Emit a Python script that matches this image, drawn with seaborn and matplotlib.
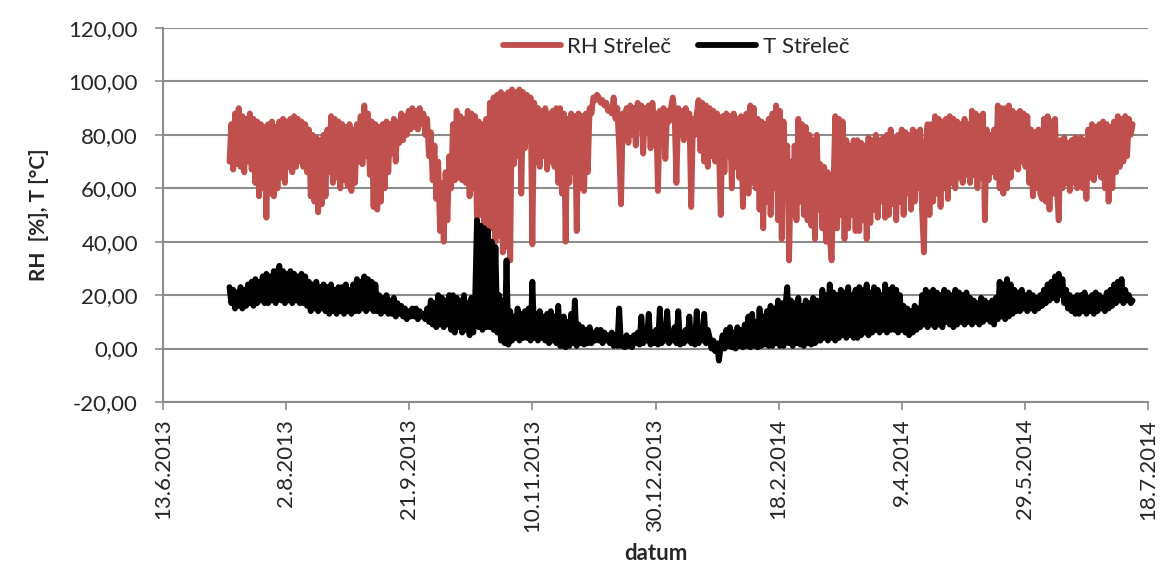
import numpy as np
import pandas as pd
import matplotlib
matplotlib.use("Agg")
import matplotlib.pyplot as plt
import matplotlib.dates as mdates
from matplotlib.ticker import FixedLocator, FuncFormatter
import seaborn as sns

# ---- data (one value every 18 h from 10.7.2013) ----
rh_values = [
    70, 84, 67, 88, 69, 90, 68, 87, 66, 86, 70, 88, 67, 86, 62, 85, 57, 84, 60, 83,
    49, 84, 58, 85, 57, 83, 60, 85, 64, 86, 62, 85, 68, 86, 66, 87, 68, 86, 70, 85,
    68, 84, 66, 82, 57, 80, 55, 79, 51, 78, 54, 80, 57, 82, 66, 87, 62, 86, 64, 85,
    60, 84, 63, 83, 61, 84, 59, 82, 62, 84, 70, 87, 69, 91, 72, 88, 65, 85, 53, 84,
    52, 83, 55, 84, 60, 85, 66, 84, 73, 86, 70, 85, 77, 88, 78, 87, 80, 89, 82, 90,
    83, 89, 82, 90, 84, 88, 80, 86, 72, 81, 63, 76, 56, 70, 44, 62, 40, 66, 48, 72,
    60, 84, 63, 89, 64, 87, 63, 86, 62, 89, 57, 88, 60, 87, 48, 85, 50, 84, 42, 86,
    44, 92, 45, 94, 40, 95, 42, 96, 36, 95, 38, 96, 33, 97, 69, 96, 72, 97, 58, 96,
    75, 95, 78, 94, 39, 92, 70, 90, 68, 89, 72, 90, 67, 88, 70, 89, 68, 90, 62, 90,
    58, 88, 40, 86, 62, 88, 66, 87, 44, 88, 60, 87, 59, 88, 66, 90, 88, 94, 93, 95,
    94, 92, 93, 91, 92, 89, 90, 88, 94, 86, 90, 75, 54, 88, 80, 90, 77, 91, 80, 90,
    76, 92, 88, 91, 73, 90, 86, 91, 75, 92, 82, 88, 59, 89, 80, 90, 71, 89, 85, 90,
    94, 88, 62, 90, 80, 89, 78, 90, 85, 88, 53, 86, 80, 88, 93, 74, 92, 70, 91, 68,
    90, 72, 89, 70, 88, 75, 50, 87, 66, 88, 72, 87, 60, 88, 68, 86, 64, 87, 53, 86,
    88, 58, 91, 62, 90, 60, 86, 52, 85, 45, 84, 55, 86, 50, 88, 60, 91, 48, 89, 41,
    85, 60, 76, 33, 70, 50, 76, 48, 86, 55, 84, 50, 83, 48, 80, 46, 78, 41, 80, 52,
    69, 45, 68, 40, 66, 42, 33, 60, 87, 45, 86, 50, 85, 41, 78, 45, 76, 50, 78, 44,
    78, 44, 77, 48, 76, 41, 79, 47, 78, 52, 80, 49, 78, 55, 79, 49, 80, 50, 82, 54,
    79, 48, 80, 55, 82, 50, 81, 58, 80, 52, 82, 55, 81, 60, 82, 52, 36, 75, 84, 50,
    84, 55, 87, 58, 86, 53, 85, 60, 86, 56, 87, 62, 86, 60, 85, 64, 84, 62, 86, 65,
    84, 62, 89, 65, 88, 60, 87, 64, 88, 48, 82, 63, 80, 66, 82, 64, 91, 60, 90, 58,
    90, 60, 91, 64, 89, 68, 88, 67, 89, 70, 88, 68, 87, 62, 82, 57, 81, 60, 82, 58,
    56, 86, 55, 87, 52, 85, 58, 86, 60, 48, 78, 60, 79, 62, 77, 59, 78, 62, 79, 60,
    62, 79, 60, 78, 56, 82, 64, 84, 63, 83, 66, 84, 64, 85, 60, 84, 55, 83, 60, 85,
    66, 87, 68, 86, 70, 87, 72, 86, 80, 84,
]
t_values = [
    23, 17, 22, 15, 21, 16, 23, 15, 22, 16, 24, 17, 25, 16, 26, 17, 25, 18, 27, 17,
    28, 17, 27, 18, 29, 17, 28, 31, 18, 29, 17, 28, 18, 29, 17, 28, 18, 27, 17, 28,
    17, 27, 16, 25, 14, 24, 15, 25, 14, 23, 15, 24, 14, 23, 13, 24, 14, 22, 13, 23,
    14, 23, 13, 24, 14, 22, 13, 24, 14, 26, 14, 25, 15, 27, 14, 26, 15, 25, 14, 24,
    14, 20, 13, 19, 14, 20, 13, 18, 13, 19, 12, 17, 13, 16, 12, 15, 11, 14, 12, 15,
    12, 15, 11, 14, 12, 13, 11, 15, 10, 18, 9, 17, 8, 20, 9, 19, 8, 18, 9, 20,
    7, 20, 6, 19, 8, 18, 6, 20, 7, 17, 5, 19, 6, 18, 48, 8, 46, 7, 45, 8,
    44, 8, 40, 7, 38, 6, 20, 3, 18, 2, 33, 1.5, 14, 3, 12, 4, 15, 3, 13, 4,
    14, 4, 15, 3, 25, 4, 13, 3, 14, 4, 12, 3, 13, 2, 14, 3, 12, 2, 16, 1,
    1, 12, 0.5, 10, 1, 13, 2, 18, 1, 9, 2, 8, 1.5, 7, 2, 8, 2, 6, 3, 7,
    3, 7, 2, 6, 3, 5, 2, 6, 1, 5, 1, 15, 1, 4, 0.5, 5, 1, 4, 0.5, 5,
    2, 6, 1.5, 12, 2, 5, 3, 13, 1.5, 6, 2, 7, 1.5, 15, 2, 5, 3, 14, 2, 6,
    3, 8, 2, 14, 1.5, 6, 2, 7, 3, 12, 2, 5, 1.5, 14, 2, 6, 3, 13, 2, 7,
    4, 0, 3, -1, 2, -4.5, 1, 5, 0, 7, 1, 8, 0.5, 6, 0, 8, 1, 7, 0.5, 9,
    1, 12, 0.5, 13, 1, 10, 0.5, 15, 1, 12, 1.5, 14, 1, 16, 1, 15, 2, 18, 1, 17,
    1, 16, 23, 2, 18, 1, 17, 2, 19, 1.5, 16, 1, 18, 2, 17, 1.5, 19, 2, 18, 3,
    3, 22, 4, 20, 3, 24, 4, 21, 3, 20, 4, 22, 5, 21, 4, 23, 5, 20, 4, 22,
    4, 23, 5, 22, 6, 24, 5, 21, 6, 23, 7, 22, 6, 20, 7, 24, 6, 22, 7, 23,
    7, 22, 6, 20, 7, 16, 6, 15, 5, 14, 6, 16, 7, 15, 8, 20, 9, 22, 8, 21,
    9, 22, 8, 21, 9, 20, 8, 22, 10, 21, 9, 20, 8, 22, 9, 21, 10, 20, 9, 21,
    10, 19, 9, 18, 10, 17, 9, 19, 10, 18, 11, 17, 10, 18, 9, 19, 11, 25, 12, 24,
    11, 26, 12, 24, 13, 22, 14, 21, 14, 22, 15, 20, 14, 21, 15, 20, 14, 19, 15, 20,
    16, 22, 17, 24, 18, 25, 19, 27, 18, 28, 20, 26, 17, 22, 15, 20, 14, 19, 13, 20,
    13, 20, 14, 21, 13, 19, 14, 20, 13, 21, 14, 20, 15, 19, 14, 21, 15, 22, 16, 24,
    17, 25, 18, 26, 17, 22, 18, 20, 17, 18,
]
series_names = ["RH Střeleč", "T Střeleč"]
series_colors = ["#C0504D", "#000000"]
start_date = "2013-07-10"
step = "18h"
x_ticks = pd.date_range("2013-06-13", periods=9, freq="50D")
y_ticks = [-20, 0, 20, 40, 60, 80, 100, 120]

frames = []
for name, vals in zip(series_names, [rh_values, t_values]):
    frames.append(pd.DataFrame({
        "datum": pd.date_range(start_date, periods=len(vals), freq=step),
        "value": vals,
        "series": name,
    }))
df = pd.concat(frames, ignore_index=True)

sns.set_style("white")
plt.rcParams["font.family"] = ["Lato", "DejaVu Sans"]

fig = plt.figure(figsize=(11.61, 5.74), dpi=100)
ax = fig.add_axes([163 / 1161, 1 - 402 / 574, (1148 - 163) / 1161, (402 - 28) / 574])

LW = 4.2
sns.lineplot(data=df, x="datum", y="value", hue="series", hue_order=series_names,
             palette=series_colors, estimator=None, sort=False, linewidth=LW,
             ax=ax, legend=False)
for ln in ax.get_lines():
    ln.set_solid_joinstyle("round")
    ln.set_solid_capstyle("round")

grid_c = "#8C8C8C"
ax.set_ylim(-20, 120)
ax.set_xlim(x_ticks[0], x_ticks[-1])
ax.yaxis.set_major_locator(FixedLocator(y_ticks))
ax.yaxis.set_major_formatter(FuncFormatter(lambda v, p: f"{v:.2f}".replace(".", ",")))
ax.xaxis.set_major_locator(FixedLocator(mdates.date2num(x_ticks)))
ax.xaxis.set_major_formatter(FuncFormatter(
    lambda v, p: (lambda d: f"{d.day}.{d.month}.{d.year}")(mdates.num2date(v))))
ax.grid(axis="y", color=grid_c, linewidth=1.5, zorder=0)
ax.set_axisbelow(True)
for s in ["top", "right"]:
    ax.spines[s].set_visible(False)
for s in ["left", "bottom"]:
    ax.spines[s].set_color(grid_c)
    ax.spines[s].set_linewidth(1.5)
ax.tick_params(axis="y", direction="out", length=6, width=1.2, color=grid_c,
               labelsize=16, pad=12, left=True)
ax.tick_params(axis="x", direction="out", length=6, width=1.2, color=grid_c,
               labelsize=16, pad=6, labelrotation=90, bottom=True)
ax.set_xlabel("datum", fontsize=16, fontweight="bold", labelpad=8)
ax.set_ylabel("RH  [%], T [°C]", fontsize=15, fontweight="bold", labelpad=14)

handles = [plt.Line2D([], [], color=c, linewidth=LW, solid_capstyle="round")
           for c in series_colors]
fig.legend(handles, series_names, loc="center", bbox_to_anchor=(676 / 1161, 1 - 47 / 574),
           ncol=2, frameon=False, fontsize=16, handlelength=2.6, columnspacing=1.2,
           handletextpad=0.3)

fig.savefig("out.png", dpi=100)
